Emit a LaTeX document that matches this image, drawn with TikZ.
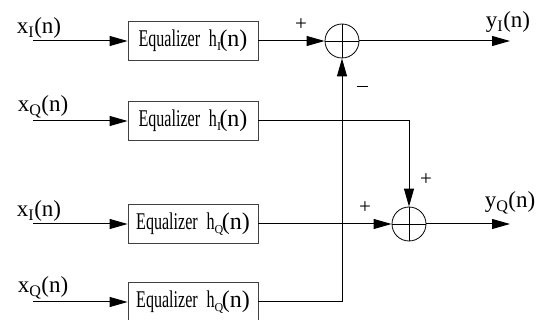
\documentclass[tikz,border=0pt]{standalone}
\usepackage{fontspec}
\setmainfont{Liberation Serif}
\usepackage{graphicx}
\usetikzlibrary{arrows.meta, positioning, calc}

\newcommand{\eqtext}[1]{\scalebox{0.67}[1]{Equalizer\hspace{0.55em}h}\raisebox{-0.3ex}{\scalebox{0.5}{#1}}\kern-1.5pt(n)}

\begin{document}
\begin{tikzpicture}[
        x=1pt, y=-1pt,
        eqbox/.style={rectangle, draw=black!75, line width=0.8pt, minimum width=130pt, minimum height=39pt, inner sep=0pt, text centered, font=\fontsize{24}{26}\selectfont},
        sumnode/.style={circle, draw, line width=0.8pt, minimum size=34pt, inner sep=0pt,
            path picture={\draw[line width=0.8pt] (path picture bounding box.north) -- (path picture bounding box.south) (path picture bounding box.west) -- (path picture bounding box.east);}},
        sig/.style={font=\fontsize{23}{25}\selectfont, inner sep=0pt},
        sgn/.style={font=\fontsize{21}{21}\selectfont, inner sep=0pt},
        arrow/.style={-{Triangle[length=18pt, width=10pt]}, line width=1pt},
        wire/.style={line width=1pt}
    ]
        \useasboundingbox (0,0) rectangle (549,320);
        \clip (0,0) rectangle (549,320);

        % Equalizers
        \node[eqbox] (eqII) at (193,41) {\eqtext{I}};
        \node[eqbox] (eqQI) at (193,121) {\eqtext{I}};
        \node[eqbox] (eqIQ) at (193,224) {\eqtext{Q}};
        \node[eqbox] (eqQQ) at (193,302) {\eqtext{Q}};

        % Adders
        \node[sumnode] (sumI) at (342,41) {};
        \node[sumnode] (sumQ) at (409,224) {};

        % Inputs
        \coordinate (inII) at (33,41);
        \coordinate (inQI) at (33,121);
        \coordinate (inIQ) at (33,224);
        \coordinate (inQQ) at (33,302);
        \node[sig] (lblII) at (39,28) {x\textsubscript{I}(n)};
        \node[sig] (lblQI) at (43,107) {x\textsubscript{Q}(n)};
        \node[sig] (lblIQ) at (39,211) {x\textsubscript{I}(n)};
        \node[sig] (lblQQ) at (43,288) {x\textsubscript{Q}(n)};

        % Outputs
        \coordinate (outI) at (510,41);
        \coordinate (outQ) at (510,224);
        \node[sig] (lblyI) at (508,22) {y\textsubscript{I}(n)};
        \node[sig] (lblyQ) at (510,203) {y\textsubscript{Q}(n)};

        % Arrows
        \draw[arrow] (inII) -- (eqII);
        \draw[arrow] (inQI) -- (eqQI);
        \draw[arrow] (inIQ) -- (eqIQ);
        \draw[arrow] (inQQ) -- (eqQQ);
        \draw[arrow] (eqII) -- (sumI);
        \draw[arrow] (eqQQ.east) -| (sumI.south);
        \draw[arrow] (eqQI.east) -| (sumQ.north);
        \draw[arrow] (eqIQ) -- (sumQ);
        \draw[arrow] (sumI) -- (outI);
        \draw[arrow] (sumQ) -- (outQ);

        % Signs
        \node[sgn] (pI) at (301,25) {+};
        \node[sgn] (mI) at (362,86) {\rule{11pt}{0.9pt}};
        \node[sgn] (pQa) at (426,180) {+};
        \node[sgn] (pQb) at (365,208) {+};
    \end{tikzpicture}
\end{document}
